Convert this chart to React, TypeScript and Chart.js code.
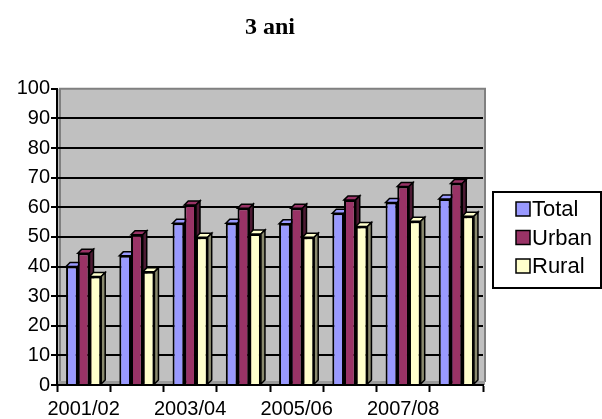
import React, { useEffect, useRef } from 'react';
import { Chart, registerables } from 'chart.js';

Chart.register(...registerables);

const categories = ['2001/02', '2002/03', '2003/04', '2004/05', '2005/06', '2006/07', '2007/08', '2008/09'];
const seriesNames = ['Total', 'Urban', 'Rural'];
const totalValues = [40, 43.6, 54.6, 54.6, 54.4, 58, 61.6, 62.8];
const urbanValues = [44.5, 50.7, 60.8, 59.7, 59.7, 62.5, 67, 68];
const ruralValues = [36.6, 38.2, 49.9, 51, 49.9, 53.5, 55.3, 57];
const seriesColors = ['#9999FF', '#993366', '#FFFFCC'];
const sideColors = ['#5c5c99', '#4d1a33', '#8a8a6e'];
const yMin = 0;
const yMax = 100;
const yStep = 10;

const FONT = 'Arial, "Liberation Sans", sans-serif';

const wallPlugin = {
  id: 'wall',
  beforeDraw(chart: any) {
    const { ctx, chartArea } = chart;
    const { left, top, right, bottom } = chartArea;
    ctx.save();
    ctx.fillStyle = '#C0C0C0';
    ctx.fillRect(left, top, right - left + 2, bottom - top);
    ctx.strokeStyle = '#808080';
    ctx.lineWidth = 2;
    ctx.beginPath();
    ctx.moveTo(left + 3, bottom);
    ctx.lineTo(left + 3, top);
    ctx.lineTo(right + 2, top);
    ctx.lineTo(right + 2, bottom - 3);
    ctx.stroke();
    ctx.fillStyle = '#9a9a9a';
    ctx.fillRect(left, bottom - 4, right - left + 2, 4);
    ctx.restore();
  },
};

const depthPlugin = {
  id: 'depth',
  beforeDatasetsDraw(chart: any) {
    const { ctx } = chart;
    const d = 4;
    ctx.save();
    ctx.lineWidth = 1.5;
    ctx.strokeStyle = '#000';
    chart.data.datasets.forEach((_ds: any, i: number) => {
      const meta = chart.getDatasetMeta(i);
      meta.data.forEach((el: any) => {
        const { x, y, base, width } = el.getProps(['x', 'y', 'base', 'width'], true);
        const l = x - width / 2;
        const r = x + width / 2;
        ctx.fillStyle = seriesColors[i];
        ctx.beginPath();
        ctx.moveTo(l, y);
        ctx.lineTo(l + d, y - d);
        ctx.lineTo(r + d, y - d);
        ctx.lineTo(r, y);
        ctx.closePath();
        ctx.fill();
        ctx.stroke();
        ctx.fillStyle = sideColors[i];
        ctx.beginPath();
        ctx.moveTo(r, y);
        ctx.lineTo(r + d, y - d);
        ctx.lineTo(r + d, base - d);
        ctx.lineTo(r, base);
        ctx.closePath();
        ctx.fill();
        ctx.stroke();
      });
    });
    ctx.restore();
  },
};

const legendPlugin = {
  id: 'boxLegend',
  afterDraw(chart: any) {
    const { ctx, chartArea } = chart;
    const bx = chartArea.right + 10;
    const by = 192;
    const bw = 108;
    const bh = 96;
    ctx.save();
    ctx.strokeStyle = '#000';
    ctx.lineWidth = 2;
    ctx.strokeRect(bx, by, bw, bh);
    ctx.font = `22px ${FONT}`;
    ctx.textBaseline = 'middle';
    ctx.textAlign = 'left';
    seriesNames.forEach((name, i) => {
      const cy = by + 17 + i * 28.5;
      ctx.fillStyle = seriesColors[i];
      ctx.fillRect(bx + 23, cy - 7, 14, 14);
      ctx.lineWidth = 1.5;
      ctx.strokeRect(bx + 23, cy - 7, 14, 14);
      ctx.fillStyle = '#000';
      ctx.fillText(name, bx + 39, cy + 1);
    });
    ctx.restore();
  },
};

export default function App() {
  const ref = useRef<HTMLCanvasElement | null>(null);

  useEffect(() => {
    if (!ref.current) return;
    const values = [totalValues, urbanValues, ruralValues];
    const chart = new Chart(ref.current, {
      type: 'bar',
      data: {
        labels: categories,
        datasets: seriesNames.map((name, i) => ({
          label: name,
          data: values[i],
          backgroundColor: seriesColors[i],
          borderColor: '#000',
          borderWidth: 2,
          categoryPercentage: 0.66,
          barPercentage: 1,
        })),
      },
      options: {
        responsive: false,
        animation: false,
        devicePixelRatio: 1,
        layout: { padding: { left: 0, right: 119, top: 0, bottom: 0 } },
        plugins: {
          legend: { display: false },
          tooltip: { enabled: false },
          title: {
            display: true,
            text: '3 ani',
            fullSize: false,
            color: '#000',
            font: { family: '"Liberation Serif", "Times New Roman", serif', size: 24, weight: 'bold' },
            padding: { top: 13, bottom: 47 },
          },
        },
        scales: {
          x: {
            grid: {
              offset: true,
              drawOnChartArea: false,
              drawTicks: true,
              tickLength: 7,
              tickColor: '#000',
              tickWidth: 2,
            },
            border: { display: true, color: '#000', width: 2 },
            ticks: {
              autoSkip: false,
              maxRotation: 0,
              color: '#000',
              padding: 5,
              font: { family: FONT, size: 20 },
              callback: (_v: any, idx: number) => (idx % 2 === 0 ? categories[idx] : ''),
            },
          },
          y: {
            min: yMin,
            max: yMax,
            afterFit: (axis: any) => {
              axis.width = 57;
            },
            grid: {
              color: (c: any) => (c.tick && c.tick.value === yMax ? 'rgba(0,0,0,0)' : '#000'),
              lineWidth: 2,
              tickLength: 6,
              tickColor: '#000',
              tickWidth: 2,
            },
            border: { display: true, color: '#000', width: 2 },
            ticks: {
              stepSize: yStep,
              color: '#000',
              padding: 1,
              font: { family: FONT, size: 20 },
            },
          },
        },
      },
      plugins: [wallPlugin, depthPlugin, legendPlugin],
    } as any);
    return () => chart.destroy();
  }, []);

  return (
    <div style={{ position: 'fixed', left: 0, top: 0, width: 602, height: 419, overflow: 'hidden', background: '#fff' }}>
      <canvas ref={ref} width={602} height={426} style={{ display: 'block', width: 602, height: 426 }} />
    </div>
  );
}
